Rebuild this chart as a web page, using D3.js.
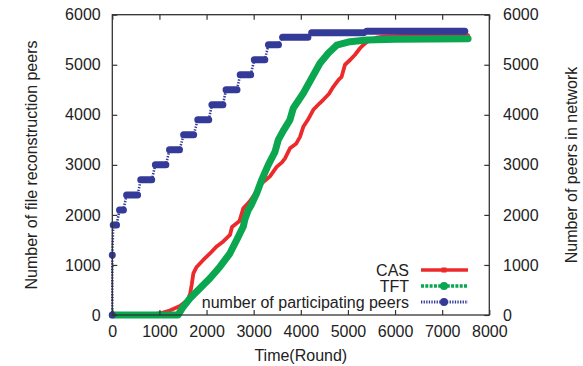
<!DOCTYPE html>
<html><head><meta charset="utf-8">
<script src="https://cdn.jsdelivr.net/npm/d3@7"></script>
<style>
body{margin:0;background:#fff}
svg{display:block}
text{font-family:"Liberation Sans",Arial,Helvetica,sans-serif;font-size:16px;fill:#222}
</style>
</head><body>
<svg id="c" width="583" height="366"></svg>
<script>
// ---- data ----
const xTicks = [0,1000,2000,3000,4000,5000,6000,7000,8000];
const yTicks = [0,1000,2000,3000,4000,5000,6000];
const seriesNames = ["CAS","TFT","number of participating peers"];

const casRounds = [0,800,1000,1220,1436,1600,1650,1684,1720,1790,1930,2073,2215,2355,2497,2540,2700,2780,2900,2992,3134,3346,3488,3600,3665,3770,3900,3983,4053,4150,4265,4400,4477,4600,4689,4800,4866,4937,5050,5150,5256,5370,5468,5600,5750,6200,7000,7550];
const casValues = [0,0,30,90,180,300,420,600,830,960,1100,1230,1370,1470,1600,1760,1880,2130,2250,2370,2600,2770,2960,3050,3130,3330,3420,3560,3760,3900,4100,4230,4300,4420,4560,4700,4760,5000,5100,5200,5330,5430,5495,5540,5560,5575,5585,5590];

const tftRounds = [0,1394,1507,1649,1861,2073,2285,2497,2640,2780,2810,2886,2950,3064,3170,3310,3452,3522,3640,3770,3840,4053,4230,4407,4583,4761,5044,5398,6000,7550];
const tftValues = [0,0,166,333,533,733,965,1233,1500,1770,1900,2100,2200,2430,2700,3000,3260,3500,3700,3900,4130,4430,4730,5030,5230,5390,5460,5495,5510,5520];

// participating peers: staircase (start round, end round, value of each plateau)
const peerStepStart = [20,154,304,604,914,1214,1514,1814,2114,2414,2714,3014,3314,3614,4230,5400];
const peerStepEnd   = [90,236,536,836,1136,1426,1726,2046,2346,2646,2936,3236,3526,4150,5330,7480];
const peerStepValue = [1800,2100,2400,2700,3000,3300,3600,3900,4200,4500,4800,5100,5400,5550,5640,5670];
const peerStartRounds = [0,0];
const peerStartValues = [0,1200];

// ---- drawing ----
const W=583,H=366;
const svg=d3.select("#c");
const x=d3.scaleLinear().domain([0,8000]).range([112.3,489.3]);
const y=d3.scaleLinear().domain([0,6000]).range([315,14.7]);
const RED="#ec2a2c", GREEN="#0aa650", BLUE="#343a98", AX="#333";

const line=d3.line().x(d=>x(d[0])).y(d=>y(d[1]));

// CAS
svg.append("path").datum(d3.zip(casRounds,casValues))
  .attr("d",line).attr("fill","none").attr("stroke",RED)
  .attr("stroke-width",3.8).attr("stroke-linejoin","round").attr("stroke-linecap","round");

// TFT
svg.append("path").datum(d3.zip(tftRounds,tftValues))
  .attr("d",line).attr("fill","none").attr("stroke",GREEN)
  .attr("stroke-width",7).attr("stroke-linejoin","round").attr("stroke-linecap","round");

// peers
const peerPts=d3.zip(peerStartRounds,peerStartValues);
peerStepValue.forEach((v,i)=>{peerPts.push([peerStepStart[i],v]);peerPts.push([peerStepEnd[i],v]);});
svg.append("path").datum(peerPts)
  .attr("d",line).attr("fill","none").attr("stroke",BLUE)
  .attr("stroke-width",2.6).attr("stroke-dasharray","1.4,1.4");
svg.append("g").selectAll("line").data(peerStepValue).join("line")
  .attr("x1",(d,i)=>x(peerStepStart[i])).attr("x2",(d,i)=>x(peerStepEnd[i]))
  .attr("y1",d=>y(d)).attr("y2",d=>y(d))
  .attr("stroke",BLUE).attr("stroke-width",7).attr("stroke-linecap","round");
svg.append("g").selectAll("circle").data(d3.zip(peerStartRounds,peerStartValues)).join("circle")
  .attr("cx",d=>x(d[0])).attr("cy",d=>y(d[1])).attr("r",3.5).attr("fill",BLUE);

// axes
function styleAxis(g){
  g.select(".domain").remove();
  g.selectAll(".tick line").attr("stroke",AX).attr("stroke-width",1.2);
  g.selectAll("text").attr("font-size",16).attr("font-family",'"Liberation Sans",Arial,sans-serif').attr("fill","#222");
  g.attr("font-size",null).attr("font-family",null);
}
svg.append("g").attr("transform","translate(0,315)")
  .call(d3.axisBottom(x).tickValues(xTicks).tickSizeInner(-5).tickSizeOuter(0).tickPadding(10.6).tickFormat(d3.format("d")))
  .call(styleAxis);
svg.append("g").attr("transform","translate(0,14.7)")
  .call(d3.axisTop(x).tickValues(xTicks).tickSizeInner(-5).tickSizeOuter(0).tickFormat(""))
  .call(styleAxis);
svg.append("g").attr("transform","translate(112.3,0)")
  .call(d3.axisLeft(y).tickValues(yTicks).tickSizeInner(-5).tickSizeOuter(0).tickPadding(11.6).tickFormat(d3.format("d")))
  .call(styleAxis);
svg.append("g").attr("transform","translate(489.3,0)")
  .call(d3.axisRight(y).tickValues(yTicks).tickSizeInner(-5).tickSizeOuter(0).tickPadding(13.7).tickFormat(d3.format("d")))
  .call(styleAxis);
svg.append("rect").attr("x",112.3).attr("y",14.7).attr("width",377).attr("height",300.3)
  .attr("fill","none").attr("stroke",AX).attr("stroke-width",1.3);

// titles
svg.append("text").attr("x",300.8).attr("y",361).attr("text-anchor","middle").text("Time(Round)");
svg.append("text").attr("transform","translate(37,165) rotate(-90)").attr("text-anchor","middle").text("Number of file reconstruction peers");
svg.append("text").attr("transform","translate(577,165) rotate(-90)").attr("text-anchor","middle").text("Number of peers in network");

// legend
const legY=[270,286,302];
const lg=svg.append("g");
lg.selectAll("text").data(seriesNames).join("text")
  .attr("x",409).attr("y",(d,i)=>legY[i]+5.5).attr("text-anchor","end").text(d=>d);
lg.append("line").attr("x1",421).attr("x2",468).attr("y1",legY[0]).attr("y2",legY[0])
  .attr("stroke",RED).attr("stroke-width",3.5);
lg.append("rect").attr("x",441.5).attr("y",legY[0]-2.5).attr("width",5).attr("height",5).attr("fill",RED);
lg.append("line").attr("x1",421).attr("x2",468).attr("y1",legY[1]).attr("y2",legY[1])
  .attr("stroke",GREEN).attr("stroke-width",3.5).attr("stroke-dasharray","3,1.3");
lg.append("circle").attr("cx",444).attr("cy",legY[1]).attr("r",4).attr("fill",GREEN);
lg.append("line").attr("x1",421).attr("x2",468).attr("y1",legY[2]).attr("y2",legY[2])
  .attr("stroke",BLUE).attr("stroke-width",3).attr("stroke-dasharray","1.3,1.3");
lg.append("circle").attr("cx",444).attr("cy",legY[2]).attr("r",4).attr("fill",BLUE);
</script>
</body></html>
